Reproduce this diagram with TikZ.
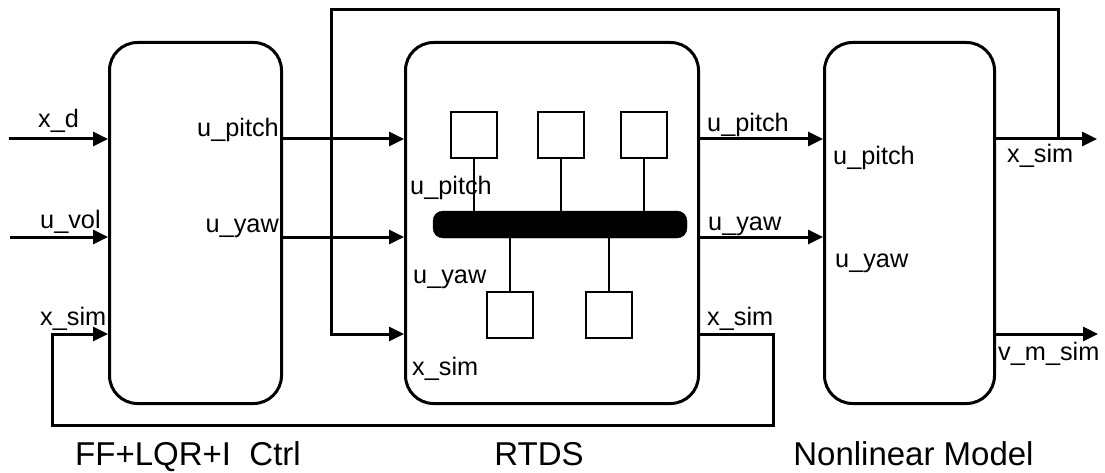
\documentclass[tikz,border=0pt]{standalone}
\usepackage{fontspec}
\setmainfont{Liberation Sans}
\usetikzlibrary{arrows.meta, positioning, calc}
\tikzset{%
	blk/.style={draw, rectangle, line width=3pt, rounded corners=28pt,%
		minimum width=172pt, minimum height=361pt, inner sep=0pt},
	sq/.style={draw, rectangle, line width=2pt, minimum size=46pt, inner sep=0pt},
	bus/.style={draw, fill=black, rectangle, rounded corners=10pt,%
		minimum width=254pt, minimum height=27pt, inner sep=0pt},
	sig/.style={->, line width=3pt},
	tie/.style={line width=2pt},
	lbl/.style={inner sep=0pt, font=\fontsize{25.3}{30}\selectfont},
	title/.style={inner sep=0pt, font=\fontsize{33}{40}\selectfont}
}
\begin{document}
\begin{tikzpicture}[x=1pt, y=-1pt, >={Triangle[length=15pt, width=14pt]}]
	\useasboundingbox (0,0) rectangle (1105,473);
	\node[blk] (ctrl) at (195.5,223) {};
	\node[blk, minimum width=293pt] (rtds) [right=121pt of ctrl] {};
	\node[blk, minimum width=170pt] (model) [right=123pt of rtds] {};
	\node[bus] (bus) at (560,224.5) {};
	\node[sq] (t1) at (473.5,135.5) {};
	\node[sq] (t2) at (561,135.5) {};
	\node[sq] (t3) at (644,135.5) {};
	\node[sq] (b1) at (510,315) {};
	\node[sq] (b2) at (608.5,315) {};
	\draw [tie] (t1.south) to (t1.south |- bus.north);
	\draw [tie] (t2.south) to (t2.south |- bus.north);
	\draw [tie] (t3.south) to (t3.south |- bus.north);
	\draw [tie] (b1.north) to (b1.north |- bus.south);
	\draw [tie] (b2.north) to (b2.north |- bus.south);
	\coordinate (yp) at (0,139);
	\coordinate (yy) at (0,237);
	\coordinate (ys) at (0,334);
	\coordinate (xdin) at (9,139);
	\coordinate (uvin) at (10,237);
	\coordinate (xout) at (1097,139);
	\coordinate (vout) at (1098,334);
	\coordinate (br) at (1058,139);
	\coordinate (top) at (331,10);
	\coordinate (fbr) at (773,425);
	\coordinate (fbl) at (52,425);
	\draw [sig] (xdin) to (ctrl.west |- xdin);
	\draw [sig] (uvin) to (ctrl.west |- uvin);
	\draw [sig] (ctrl.east |- yp) to (rtds.west |- yp);
	\draw [sig] (ctrl.east |- yy) to (rtds.west |- yy);
	\draw [sig] (rtds.east |- yp) to (model.west |- yp);
	\draw [sig] (rtds.east |- yy) to (model.west |- yy);
	\draw [sig] (model.east |- yp) to (xout);
	\draw [sig] (model.east |- ys) to (vout);
	\draw [sig] (br) |- (top) |- (rtds.west |- ys);
	\draw [sig] (rtds.east |- ys) -| (fbr) -- (fbl) |- (ctrl.west |- ys);
	\node[lbl, anchor=base west] (lxd) at (38,128) {x\_d};
	\node[lbl, anchor=base west] (luv) at (40,228) {u\_vol};
	\node[lbl, anchor=base west] (lxs) at (40,325) {x\_sim};
	\node[lbl, anchor=base east] (lcp) at (279,137) {u\_pitch};
	\node[lbl, anchor=base east] (lcy) at (279,232) {u\_yaw};
	\node[lbl, anchor=base west] (lrp) at (410,194) {u\_pitch};
	\node[lbl, anchor=base west] (lry) at (413,283) {u\_yaw};
	\node[lbl, anchor=base west] (lrs) at (412,375) {x\_sim};
	\node[lbl, anchor=base west] (lop) at (707,132) {u\_pitch};
	\node[lbl, anchor=base west] (loy) at (708,230) {u\_yaw};
	\node[lbl, anchor=base west] (los) at (707,325) {x\_sim};
	\node[lbl, anchor=base west] (lmp) at (833,165) {u\_pitch};
	\node[lbl, anchor=base west] (lmy) at (835,267) {u\_yaw};
	\node[lbl, anchor=base west] (lxo) at (1007,163) {x\_sim};
	\node[lbl, anchor=base west] (lvo) at (998,360) {v\_m\_sim};
	\node[title, anchor=base] (cctrl) at (188,465) {FF+LQR+I~~Ctrl};
	\node[title, anchor=base] (crtds) at (539,465) {RTDS};
	\node[title, anchor=base] (cmodel) at (913.5,465) {Nonlinear Model};
\end{tikzpicture}
\end{document}
